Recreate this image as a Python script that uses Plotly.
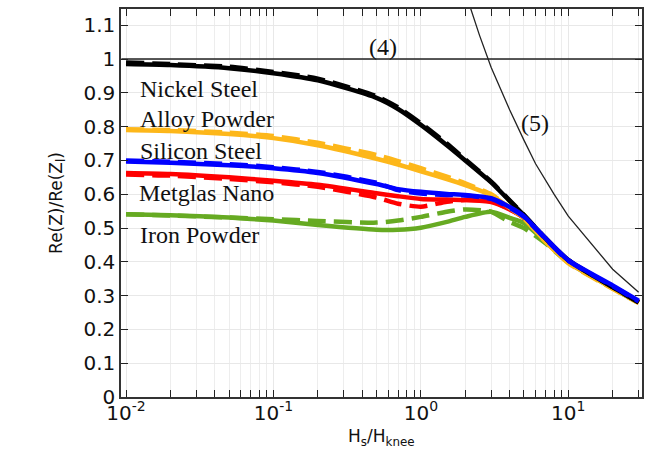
import math
import plotly.graph_objects as go

# ---------------- data ----------------
x_mat = [0.01, 0.02, 0.05, 0.1, 0.2, 0.5, 0.7, 1.0, 1.5, 2.0, 3.0, 4.0, 5.0, 7.0, 10.0, 20.0, 30.0]

nickel_solid  = [0.985, 0.982, 0.973, 0.958, 0.937, 0.885, 0.852, 0.805, 0.745, 0.700, 0.635, 0.580, 0.538, 0.470, 0.405, 0.325, 0.280]
nickel_dash   = [0.990, 0.985, 0.977, 0.962, 0.942, 0.890, 0.857, 0.810, 0.750, 0.703, 0.637, 0.582, 0.538, 0.470, 0.405, 0.325, 0.280]

alloy_solid   = [0.790, 0.787, 0.778, 0.766, 0.745, 0.705, 0.688, 0.668, 0.645, 0.627, 0.597, 0.560, 0.530, 0.460, 0.398, 0.322, 0.280]
alloy_dash    = [0.792, 0.790, 0.782, 0.772, 0.752, 0.716, 0.698, 0.677, 0.652, 0.632, 0.600, 0.560, 0.528, 0.460, 0.396, 0.320, 0.278]

silicon_solid = [0.697, 0.693, 0.686, 0.677, 0.663, 0.630, 0.615, 0.607, 0.601, 0.598, 0.588, 0.562, 0.535, 0.470, 0.405, 0.330, 0.285]
silicon_dash  = [0.700, 0.696, 0.689, 0.680, 0.666, 0.634, 0.612, 0.602, 0.598, 0.596, 0.586, 0.560, 0.533, 0.468, 0.403, 0.328, 0.283]

metglas_solid = [0.663, 0.660, 0.650, 0.640, 0.628, 0.603, 0.594, 0.586, 0.584, 0.583, 0.577, 0.555, 0.530, 0.465, 0.400, 0.325, 0.280]
metglas_dash  = [0.658, 0.655, 0.645, 0.635, 0.622, 0.590, 0.572, 0.563, 0.578, 0.583, 0.579, 0.556, 0.530, 0.465, 0.400, 0.325, 0.280]

iron_solid    = [0.541, 0.538, 0.531, 0.522, 0.509, 0.495, 0.495, 0.501, 0.518, 0.533, 0.548, 0.530, 0.515, 0.460, 0.400, 0.324, 0.280]
iron_dash     = [0.541, 0.537, 0.531, 0.526, 0.521, 0.516, 0.522, 0.533, 0.548, 0.555, 0.548, 0.518, 0.500, 0.455, 0.398, 0.322, 0.278]

x_eq4 = [0.0093, 31.6]
y_eq4 = [1.0, 1.0]

x_eq5 = [2.1, 2.5, 3.0, 4.0, 5.0, 6.0, 8.0, 10.0, 20.0, 30.0]
y_eq5 = [1.17, 1.07, 0.975, 0.85, 0.76, 0.69, 0.60, 0.535, 0.378, 0.31]

materials = ["Nickel Steel", "Alloy Powder", "Silicon Steel", "Metglas Nano", "Iron Powder"]
mat_colors = ["#000000", "#FDB71A", "#0000FF", "#FF0000", "#66AA22"]
solid_series = [nickel_solid, alloy_solid, silicon_solid, metglas_solid, iron_solid]
dash_series = [nickel_dash, alloy_dash, silicon_dash, metglas_dash, iron_dash]
draw_order = [4, 3, 1, 0, 2]   # iron, metglas, alloy, nickel, silicon (blue on top)

# label anchor positions (data units)
label_x = [0.0121, 0.0121, 0.0121, 0.0118, 0.0121]
label_y = [0.910, 0.822, 0.728, 0.604, 0.478]
eq4_label = ("(4)", 0.553, 1.0)
eq5_label = ("(5)", 5.9, 0.81)

x_tickvals = [0.01, 0.1, 1, 10]
x_ticktext = ["10<sup>-2</sup>", "10<sup>-1</sup>", "10<sup>0</sup>", "10<sup>1</sup>"]
y_tickvals = [0, 0.1, 0.2, 0.3, 0.4, 0.5, 0.6, 0.7, 0.8, 0.9, 1.0, 1.1]
y_ticktext = ["0", "0.1", "0.2", "0.3", "0.4", "0.5", "0.6", "0.7", "0.8", "0.9", "1", "1.1"]

# ---------------- figure ----------------
fig = go.Figure()

fig.add_trace(go.Scatter(x=x_eq4, y=y_eq4, mode="lines",
                         line=dict(color="#222222", width=1.3), showlegend=False))
fig.add_trace(go.Scatter(x=x_eq5, y=y_eq5, mode="lines",
                         line=dict(color="#222222", width=1.3), showlegend=False))

for i in draw_order:
    fig.add_trace(go.Scatter(x=x_mat, y=solid_series[i], mode="lines", name=materials[i],
                             line=dict(color=mat_colors[i], width=4.5, shape="spline",
                                       smoothing=0.6),
                             showlegend=False))
    fig.add_trace(go.Scatter(x=x_mat, y=dash_series[i], mode="lines",
                             name=materials[i] + " (dashed)",
                             line=dict(color=mat_colors[i], width=4.5, dash="18px,8px",
                                       shape="spline", smoothing=0.6),
                             showlegend=False))

serif = dict(family="Liberation Serif", size=24, color="#111111")
for name, lx, ly in zip(materials, label_x, label_y):
    fig.add_annotation(x=math.log10(lx), y=ly, xref="x", yref="y", text=name, showarrow=False,
                       xanchor="left", yanchor="middle", font=serif)
for txt, lx, ly in (eq4_label, eq5_label):
    fig.add_annotation(x=math.log10(lx), y=ly, xref="x", yref="y", text=txt, showarrow=False,
                       xanchor="center", yanchor="bottom" if txt == "(4)" else "middle",
                       font=serif, yshift=-3 if txt == "(4)" else 0)

sans = dict(family="DejaVu Sans", size=17, color="#111111")
fig.add_annotation(x=0.5, y=-0.105, xref="paper", yref="paper",
                   text="H<sub>s</sub>/H<sub>knee</sub>", showarrow=False,
                   xanchor="center", yanchor="middle", font=sans)
fig.add_annotation(x=-0.123, y=0.5, xref="paper", yref="paper",
                   text="Re(Z)/Re(Z<sub>l</sub>)", showarrow=False, textangle=-90,
                   xanchor="center", yanchor="middle", font=sans)

minor_vals = [m * 10 ** e for e in (-2, -1, 0, 1) for m in range(2, 10) if m * 10 ** e <= 31]

axis_common = dict(showline=True, linecolor="#333333", linewidth=1.5, mirror="ticks",
                   ticks="inside", ticklen=7, tickwidth=1.3, tickcolor="#222222",
                   showgrid=True, gridcolor="#E8E8E8", gridwidth=1,
                   tickfont=dict(family="DejaVu Sans", size=20, color="#111111"),
                   zeroline=False)

fig.update_xaxes(type="log", range=[-2.034, 1.5], tickvals=x_tickvals, ticktext=x_ticktext,
                 minor=dict(tickvals=minor_vals, ticks="inside", ticklen=7, tickwidth=1.3,
                            tickcolor="#222222", showgrid=True, gridcolor="#EDEDED"),
                 ticklabelstandoff=-3,
                 **axis_common)
fig.update_yaxes(range=[0, 1.148], tickvals=y_tickvals, ticktext=y_ticktext,
                 **axis_common)

fig.update_layout(width=647, height=449, margin=dict(l=121, r=3, t=9, b=52),
                  plot_bgcolor="white", paper_bgcolor="white", showlegend=False)

fig.write_html("out.html", config={"displayModeBar": False},
               post_script="document.body.style.margin='0';document.body.style.overflow='hidden';")
